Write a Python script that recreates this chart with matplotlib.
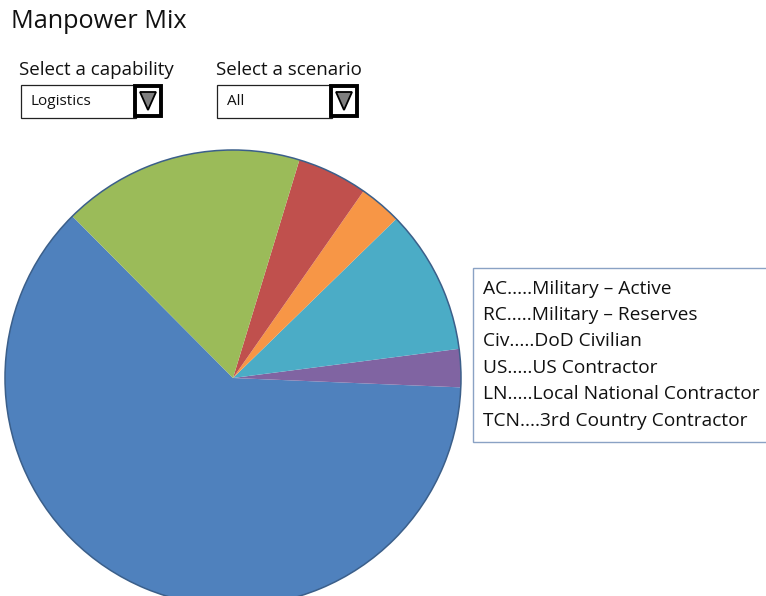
import matplotlib.pyplot as plt
from matplotlib.patches import Rectangle, Polygon

# slice shares (%) in drawing order, counterclockwise from the blue slice
codes = ['AC', 'US', 'LN', 'TCN', 'RC', 'Civ']
shares = [61.9, 2.7, 10.25, 3.0, 5.0, 17.15]
colors = ['#4F81BD', '#8064A2', '#4BACC6', '#F79646', '#C0504D', '#9BBB59']

legend_lines = ['AC.....Military \u2013 Active',
                'RC.....Military \u2013 Reserves',
                'Civ.....DoD Civilian',
                'US.....US Contractor',
                'LN.....Local National Contractor',
                'TCN....3rd Country Contractor']

capability = 'Logistics'
scenario = 'All'

W, H = 766, 596
plt.rcParams['font.family'] = ['Open Sans', 'DejaVu Sans']
fig = plt.figure(figsize=(W / 100, H / 100), dpi=100)

# overlay axes in pixel coordinates (y from top)
ov = fig.add_axes([0, 0, 1, 1])
ov.set_xlim(0, W)
ov.set_ylim(H, 0)
ov.axis('off')

# pie: centre (233,378), radius 228 px
cx, cy, r = 233, 378, 228
ax = fig.add_axes([(cx - r) / W, (H - cy - r) / H, 2 * r / W, 2 * r / H])
wedges, _ = ax.pie(shares, colors=colors, startangle=134.8, counterclock=True,
                   wedgeprops=dict(linewidth=0))
ax.pie([100], colors=['none'], wedgeprops=dict(linewidth=1.1, edgecolor='#3B5F8A', fill=False))
ax.set_xlim(-1, 1)
ax.set_ylim(-1, 1)
ax.set_aspect('equal')

ov.text(11, 21, 'Manpower Mix', fontsize=18.2, va='center', ha='left', color='#111111')
ov.text(19, 70, 'Select a capability', fontsize=13.5, va='center', ha='left', color='#111111')
ov.text(216, 70, 'Select a scenario', fontsize=13.5, va='center', ha='left', color='#111111')


def dropdown(x0, label):
    ov.add_patch(Rectangle((x0, 85), 115, 33, facecolor='white', edgecolor='#222222', lw=0.9, zorder=3))
    ov.text(x0 + 10, 101.5, label, fontsize=11, va='center', ha='left', color='#111111', zorder=4)
    ov.add_patch(Rectangle((x0 + 114, 86), 26, 30, facecolor='white', edgecolor='black', lw=2.8, zorder=5))
    ov.add_patch(Polygon([(x0 + 119, 92), (x0 + 135, 92), (x0 + 127, 110)], closed=True,
                         facecolor='#7f7f7f', edgecolor='black', lw=1.3, zorder=6))


dropdown(21, capability)
dropdown(217, scenario)

# legend text box
ov.add_patch(Rectangle((473, 268), 320, 174, facecolor='white', edgecolor='#8AA2C4', lw=1.0, zorder=3))
for i, line in enumerate(legend_lines):
    ov.text(483, 288.5 + i * 26.4, line, fontsize=13.8, va='center', ha='left', color='#111111', zorder=4)

fig.savefig('out.png', dpi=100)
